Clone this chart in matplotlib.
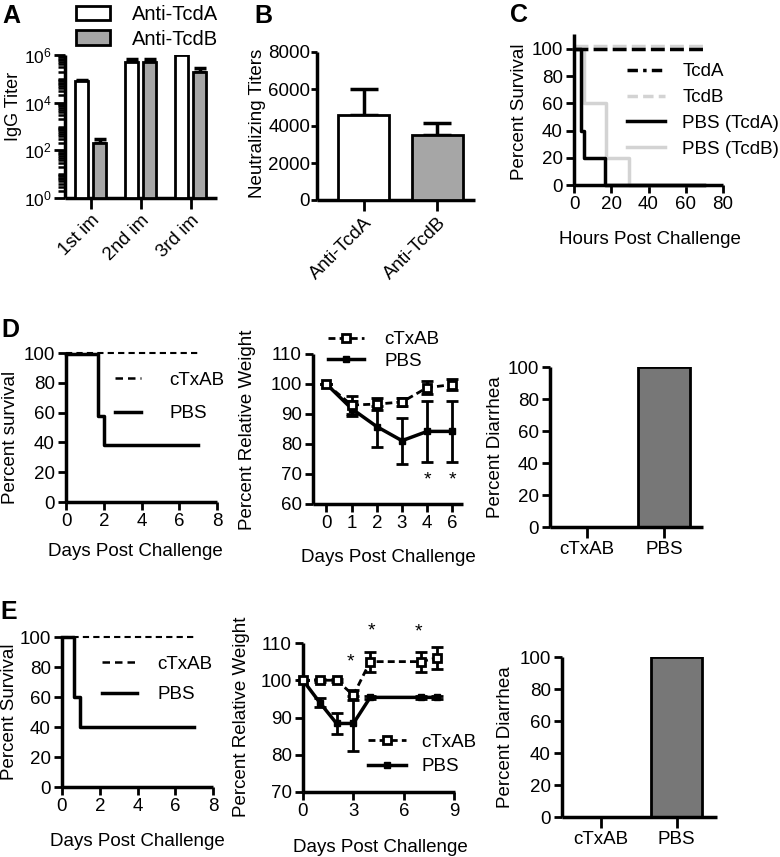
import matplotlib
matplotlib.use('Agg')
import matplotlib.pyplot as plt
import numpy as np
from matplotlib.ticker import FixedLocator, LogLocator, NullFormatter, LogFormatterSciNotation
from matplotlib.patches import Patch
from matplotlib.lines import Line2D

plt.rcParams['font.family'] = ['Liberation Sans', 'DejaVu Sans']
plt.rcParams['mathtext.fontset'] = 'custom'
plt.rcParams['mathtext.rm'] = 'Liberation Sans'
plt.rcParams['mathtext.it'] = 'Liberation Sans'

# ---------------- data ----------------
# A: IgG titers
igg_groups = ['1st im', '2nd im', '3rd im']
igg_tcda = [8.0e4, 5.0e5, 1.0e6]
igg_tcda_err = [1.0e4, 1.7e5, 0.0]
igg_tcdb = [2.0e2, 5.0e5, 2.0e5]
igg_tcdb_err = [1.1e2, 1.7e5, 9.5e4]

# B: neutralizing titers
neut_labels = ['Anti-TcdA', 'Anti-TcdB']
neut_vals = [4600, 3500]
neut_err = [1400, 650]

# C: survival (hours)
c_tcda_t = [0, 70]
c_tcda_s = [100, 100]
c_tcdb_t = [0, 70]
c_tcdb_s = [102.5, 102.5]
c_pbsa_t = [0, 3.6, 5.2, 16.5, 70]
c_pbsa_s = [100, 40, 20, 0, 0]
c_pbsb_t = [0, 5.2, 17.4, 29.3, 70]
c_pbsb_s = [100, 60, 20, 0, 0]

# D: survival (days)
d_ctx_t = [0, 7]
d_ctx_s = [100, 100]
d_pbs_t = [0, 1.72, 2.0, 7]
d_pbs_s = [99, 58, 38, 38]

# D: weight
d_w_days = ['0', '1', '2', '3', '4', '6']
d_w_ctx = [100, 93.0, 93.3, 94.0, 98.8, 99.8]
d_w_ctx_err = [0, 3.0, 2.0, 1.2, 2.2, 1.8]
d_w_pbs = [100, 91.8, 85.8, 81.1, 84.2, 84.2]
d_w_pbs_err = [0, 2.5, 6.8, 7.6, 10.3, 10.3]
d_w_star_idx = [4, 5]
d_w_star_y = [68, 68]

# D: diarrhea
diar_groups = ['cTxAB', 'PBS']
d_diar = [0, 100]

# E: survival
e_ctx_t = [0, 7]
e_ctx_s = [100, 100]
e_pbs_t = [0, 0.62, 0.97, 7]
e_pbs_s = [100, 60, 40, 40]

# E: weight
e_w_days = [0, 1, 2, 3, 4, 7, 8]
e_w_ctx = [100, 100, 100, 96.0, 105.0, 105.0, 106.0]
e_w_ctx_err = [0, 0.4, 0.4, 1.3, 2.7, 2.7, 3.0]
e_w_pbs = [100, 94.0, 88.4, 88.4, 95.4, 95.4, 95.4]
e_w_pbs_err = [0, 1.2, 2.7, 7.5, 0.3, 0.3, 0.3]
e_w_star_x = [2.8, 4.1, 6.9]
e_w_star_y = [104.9, 113.3, 112.9]

# E: diarrhea
e_diar = [0, 100]

# ---------------- figure ----------------
W, H = 780, 857
fig = plt.figure(figsize=(W / 100, H / 100), dpi=100)
FS = 13.5
LFS = 13.5
LW = 2.0


def add_ax(box):
    l, t, r, b = box
    return fig.add_axes([l / W, 1 - b / H, (r - l) / W, (b - t) / H])


def style(ax, xlen=6, ylen=6):
    for s in ['top', 'right']:
        ax.spines[s].set_visible(False)
    for s in ['left', 'bottom']:
        ax.spines[s].set_linewidth(LW + 0.5)
        ax.spines[s].set_capstyle('butt')
    ax.tick_params(axis='both', width=LW, labelsize=FS, direction='out', pad=2)
    ax.tick_params(axis='x', length=xlen)
    ax.tick_params(axis='y', length=ylen)


def ftext(x, y, s, **kw):
    kw.setdefault('fontsize', FS)
    kw.setdefault('ha', 'center')
    kw.setdefault('va', 'center')
    fig.text(x / W, 1 - y / H, s, **kw)


def leg(ax, handles, labels, x, y, fs=LFS, hl=2.0, tp=1.1, ls=0.5):
    ax.legend(handles, labels, loc='center left', bbox_to_anchor=(x / W, 1 - y / H),
              bbox_transform=fig.transFigure, frameon=False, borderpad=0,
              borderaxespad=0, handlelength=hl, handletextpad=tp, labelspacing=ls,
              fontsize=fs)


# ---- panel letters ----
for letter, (x, y) in zip('ABCDE', [(11, 16), (263, 16), (519, 15), (10, 330), (9, 612)]):
    ftext(x, y, letter, fontsize=18, fontweight='bold')

# ---- A ----
boxA = (65, 55, 217, 198)
axA = add_ax(boxA)
style(axA, xlen=8, ylen=8)
axA.tick_params(axis='y', labelsize=12.5, pad=1.5)
xg = np.arange(len(igg_groups))
bw = 0.25
axA.set_yscale('log')
axA.bar(xg - 0.18, np.array(igg_tcda) - 1, bottom=1, width=bw, color='white',
        edgecolor='black', linewidth=2, zorder=3)
axA.bar(xg + 0.18, np.array(igg_tcdb) - 1, bottom=1, width=bw, color='#a6a6a6',
        edgecolor='black', linewidth=2, zorder=3)
axA.errorbar(xg - 0.18, igg_tcda, yerr=[np.zeros(3), igg_tcda_err], fmt='none',
             ecolor='black', elinewidth=2.5, capsize=4.5, capthick=2.5, zorder=2)
axA.errorbar(xg + 0.18, igg_tcdb, yerr=[np.zeros(3), igg_tcdb_err], fmt='none',
             ecolor='black', elinewidth=2.5, capsize=4.5, capthick=2.5, zorder=2)
axA.set_ylim(1, 1e6)
axA.set_xlim(-0.51, 2.53)
axA.yaxis.set_major_locator(FixedLocator([1, 1e2, 1e4, 1e6]))
axA.yaxis.set_major_formatter(LogFormatterSciNotation())
axA.yaxis.set_minor_locator(LogLocator(base=10, subs=np.arange(1, 10), numticks=20))
axA.yaxis.set_minor_formatter(NullFormatter())
axA.tick_params(axis='y', which='minor', length=5, width=1.8)
axA.set_xticks(xg)
axA.set_xticklabels(igg_groups, rotation=45, ha='right', rotation_mode='anchor')
ftext(14, 106, 'IgG Titer', rotation=90, fontsize=13)
leg(axA, [Patch(facecolor='white', edgecolor='black', linewidth=2),
          Patch(facecolor='#a6a6a6', edgecolor='black', linewidth=2)],
    ['Anti-TcdA', 'Anti-TcdB'], 76, 27, fs=14.5, hl=1.7, tp=1.1, ls=0.25)

# ---- B ----
boxB = (317, 52, 475, 200)
axB = add_ax(boxB)
style(axB, xlen=8, ylen=4)
axB.tick_params(axis='y', pad=1)
xb = np.arange(len(neut_labels))
axB.bar(xb, neut_vals, width=0.69, color=['white', '#a6a6a6'], edgecolor='black',
        linewidth=2, zorder=3)
axB.errorbar(xb, neut_vals, yerr=[np.zeros(2), neut_err], fmt='none', ecolor='black',
             elinewidth=2.5, capsize=10, capthick=2.5, zorder=2)
axB.set_ylim(0, 8000)
axB.set_xlim(-0.63, 1.51)
axB.set_yticks([0, 2000, 4000, 6000, 8000])
axB.set_xticks(xb)
axB.set_xticklabels(neut_labels, rotation=45, ha='right', rotation_mode='anchor')
ftext(257, 123, 'Neutralizing Titers', rotation=90)

# ---- C ----
boxC = (574, 34, 723, 185)
axC = add_ax(boxC)
style(axC)
axC.step(c_pbsb_t, c_pbsb_s, where='post', color='#d3d3d3', lw=2.5, clip_on=False,
         zorder=2)
axC.step(c_tcdb_t, c_tcdb_s, where='post', color='#d3d3d3', lw=2.5, ls=(0, (4, 1.5)),
         clip_on=False, zorder=2)
axC.step(c_pbsa_t, c_pbsa_s, where='post', color='black', lw=2.5, clip_on=False,
         zorder=3)
axC.step(c_tcda_t, c_tcda_s, where='post', color='black', lw=2.5, ls=(0, (4, 1.5)),
         clip_on=False, zorder=3)
axC.set_xlim(0, 80)
axC.set_ylim(0, 111)
axC.set_xticks([0, 20, 40, 60, 80])
axC.set_yticks([0, 20, 40, 60, 80, 100])
ftext(519, 112, 'Percent Survival', rotation=90)
ftext(650, 240, 'Hours Post Challenge')
leg(axC, [Line2D([], [], color='black', lw=2.5, ls=(0, (3, 1.5, 1, 1.5))),
          Line2D([], [], color='#d3d3d3', lw=2.5, ls=(0, (3, 1.5))),
          Line2D([], [], color='black', lw=2.5),
          Line2D([], [], color='#d3d3d3', lw=2.5)],
    ['TcdA', 'TcdB', 'PBS (TcdA)', 'PBS (TcdB)'], 627, 110.5, fs=13.5, hl=2.0, tp=0.95,
    ls=0.47)

# ---- D survival ----
boxDs = (66, 353, 217, 502)
axDs = add_ax(boxDs)
style(axDs)
axDs.step(d_ctx_t, d_ctx_s, where='post', color='black', lw=1.5, ls=(0, (3, 2)),
          clip_on=False)
axDs.step(d_pbs_t, d_pbs_s, where='post', color='black', lw=2.5, clip_on=False)
axDs.set_xlim(0, 8)
axDs.set_ylim(0, 100)
axDs.set_xticks([0, 2, 4, 6, 8])
axDs.set_yticks([0, 20, 40, 60, 80, 100])
ftext(11, 437, 'Percent survival', rotation=90)
ftext(135, 551, 'Days Post Challenge')
leg(axDs, [Line2D([], [], color='black', lw=1.8, ls=(0, (3, 2))),
           Line2D([], [], color='black', lw=2.5)],
    ['cTxAB', 'PBS'], 115, 397, hl=1.4, tp=1.5, ls=0.85)

# ---- D weight ----
boxDw = (313, 354, 463, 504)
axDw = add_ax(boxDw)
style(axDw)
xd = np.arange(len(d_w_days))
axDw.errorbar(xd, d_w_pbs, yerr=d_w_pbs_err, color='black', lw=2.5, marker='s',
              ms=5, mfc='black', mec='black', elinewidth=2, capsize=4, capthick=2,
              clip_on=False, zorder=3)
axDw.errorbar(xd, d_w_ctx, yerr=d_w_ctx_err, color='black', lw=2, ls=(0, (2.5, 1.5)),
              marker='s', ms=5.5, mfc='white', mec='black', mew=2, elinewidth=2,
              capsize=4, capthick=2, clip_on=False, zorder=4)
for i, y in zip(d_w_star_idx, d_w_star_y):
    axDw.text(xd[i], y, '*', ha='center', va='center', fontsize=14)
axDw.set_xlim(-0.53, 5.42)
axDw.set_ylim(60, 110)
axDw.set_xticks(xd)
axDw.set_xticklabels(d_w_days)
axDw.set_yticks([60, 70, 80, 90, 100, 110])
ftext(248, 430, 'Percent Relative Weight', rotation=90)
ftext(388, 558, 'Days Post Challenge')
leg(axDw, [Line2D([], [], color='black', lw=2, ls=(0, (2.5, 1.5)), marker='s', ms=5.5,
                  mfc='white', mec='black', mew=2),
           Line2D([], [], color='black', lw=2.5, marker='s', ms=5)],
    ['cTxAB', 'PBS'], 328, 350.5, hl=1.9, tp=1.1, ls=0.25)

# ---- D diarrhea ----
boxDd = (550, 367, 703, 527)
axDd = add_ax(boxDd)
style(axDd, xlen=8)
xdd = np.arange(len(diar_groups))
axDd.bar(xdd, d_diar, width=0.675, color='#777777', edgecolor='black', linewidth=2)
axDd.set_xlim(-0.48, 1.5)
axDd.set_ylim(0, 100)
axDd.set_yticks([0, 20, 40, 60, 80, 100])
axDd.set_xticks(xdd)
axDd.set_xticklabels(diar_groups)
ftext(496, 447, 'Percent Diarrhea', rotation=90)

# ---- E survival ----
boxEs = (62, 637, 213, 787)
axEs = add_ax(boxEs)
style(axEs)
axEs.step(e_ctx_t, e_ctx_s, where='post', color='black', lw=1.5, ls=(0, (3, 2)),
          clip_on=False)
axEs.step(e_pbs_t, e_pbs_s, where='post', color='black', lw=2.5, clip_on=False)
axEs.set_xlim(0, 8)
axEs.set_ylim(0, 100)
axEs.set_xticks([0, 2, 4, 6, 8])
axEs.set_yticks([0, 20, 40, 60, 80, 100])
ftext(10, 712, 'Percent Survival', rotation=90)
ftext(137, 841, 'Days Post Challenge')
leg(axEs, [Line2D([], [], color='black', lw=1.8, ls=(0, (3, 2))),
           Line2D([], [], color='black', lw=2.5)],
    ['cTxAB', 'PBS'], 102, 679.5, hl=1.85, tp=1.1, ls=0.7)

# ---- E weight ----
boxEw = (303, 643, 455, 792)
axEw = add_ax(boxEw)
style(axEw)
axEw.errorbar(e_w_days, e_w_pbs, yerr=e_w_pbs_err, color='black', lw=2.5, marker='s',
              ms=5, mfc='black', mec='black', elinewidth=2, capsize=4, capthick=2,
              clip_on=False, zorder=3)
axEw.errorbar(e_w_days, e_w_ctx, yerr=e_w_ctx_err, color='black', lw=2, ls=(0, (2.5, 1.5)),
              marker='s', ms=5.5, mfc='white', mec='black', mew=2, elinewidth=2,
              capsize=4, capthick=2, clip_on=False, zorder=4)
for x, y in zip(e_w_star_x, e_w_star_y):
    axEw.text(x, y, '*', ha='center', va='center', fontsize=14, clip_on=False)
axEw.set_xlim(0, 9.05)
axEw.set_ylim(70, 110)
axEw.set_xticks([0, 3, 6, 9])
axEw.set_yticks([70, 80, 90, 100, 110])
ftext(241, 717, 'Percent Relative Weight', rotation=90)
ftext(380, 847, 'Days Post Challenge')
leg(axEw, [Line2D([], [], color='black', lw=2, ls=(0, (2.5, 1.5)), marker='s', ms=5.5,
                  mfc='white', mec='black', mew=2),
           Line2D([], [], color='black', lw=2.5, marker='s', ms=5)],
    ['cTxAB', 'PBS'], 368, 754.5, hl=2.0, tp=0.85, ls=0.4)

# ---- E diarrhea ----
boxEd = (562, 657, 717, 817)
axEd = add_ax(boxEd)
style(axEd, xlen=8)
axEd.bar(xdd, e_diar, width=0.67, color='#777777', edgecolor='black', linewidth=2)
axEd.set_xlim(-0.51, 1.53)
axEd.set_ylim(0, 100)
axEd.set_yticks([0, 20, 40, 60, 80, 100])
axEd.set_xticks(xdd)
axEd.set_xticklabels(diar_groups)
ftext(505, 737, 'Percent Diarrhea', rotation=90)

fig.savefig('out.png', dpi=100)
